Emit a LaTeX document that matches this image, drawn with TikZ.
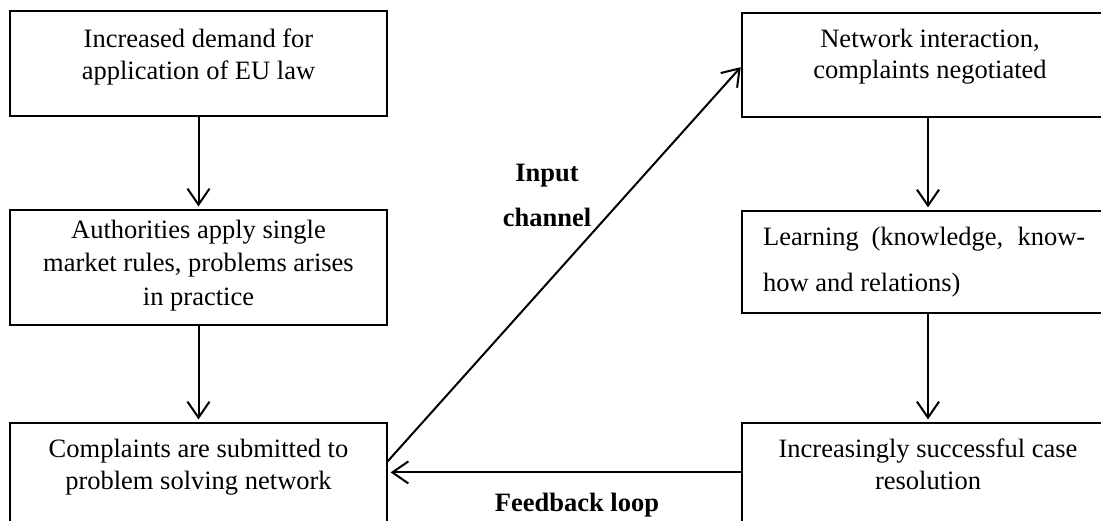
\documentclass[tikz,border=0pt]{standalone}
\usepackage{fontspec}
\setmainfont{Liberation Serif}
\usetikzlibrary{arrows.meta}
\newcommand\fl{\rule{0pt}{20pt}}
\begin{document}
\begin{tikzpicture}[x=1pt,y=-1pt,
  box/.style={draw=black, line width=1.2pt, rectangle, inner sep=0pt},
  txt/.style={inner sep=0pt, anchor=north, align=center, font=\fontsize{26.5}{32}\selectfont},
  lbl/.style={inner sep=0pt, anchor=north, align=center, font=\fontsize{26.5}{45}\selectfont\bfseries},
  arr/.style={line width=2pt, -{Straight Barb[length=16pt,width=22pt,line width=2pt]}, shorten >=3pt}
]
\useasboundingbox (0,0) rectangle (1101,520);
\clip (0,0) rectangle (1101,520);
% boxes
\node[box, minimum width=377pt, minimum height=105pt] (A) at (198.5,63.5) {};
\node[box, minimum width=377pt, minimum height=115pt] (B) at (198.5,267.5) {};
\node[box, minimum width=377pt, minimum height=105pt] (C) at (198.5,475.5) {};
\node[box, minimum width=372pt, minimum height=104pt] (D) at (928,65) {};
\node[box, minimum width=372pt, minimum height=102pt] (E) at (928,262) {};
\node[box, minimum width=372pt, minimum height=105pt] (F) at (928,475.5) {};
% texts
\node[txt] (At) at (198.5,27) {\fl Increased demand for\\application of EU law};
\node[txt, font=\fontsize{26.5}{33.5}\selectfont] (Bt) at (198.5,218) {\fl Authorities apply single\\market rules, problems arises\\in practice};
\node[txt] (Ct) at (198.5,437) {\fl Complaints are submitted to\\problem solving network};
\node[txt, font=\fontsize{26.5}{31}\selectfont] (Dt) at (930,27) {\fl Network interaction,\\complaints negotiated};
\node[txt, anchor=north west, text width=322pt, align=justify, font=\fontsize{26.5}{46}\selectfont] (Et) at (763,225) {\noindent\fl Learning (knowledge, know-\linebreak how and relations)};
\node[txt] (Ft) at (928,437) {\fl Increasingly successful case\\resolution};
% labels
\node[lbl] (Lin) at (547,161) {\fl Input\\channel};
\node[lbl] (Lfb) at (577,491) {\fl Feedback loop};
% connectors
\draw[arr] (A.south) -- (B.north);
\draw[arr] (B.south) -- (C.north);
\draw[arr] (D.south) -- (E.north);
\draw[arr] (E.south) -- (F.north);
\draw[arr, shorten >=1pt] ([yshift=-39pt]C.north east) -- ([yshift=-54pt]D.north west);
\draw[arr] ([yshift=-50pt]F.north west) -- ([yshift=-50pt]C.north east);
\end{tikzpicture}
\end{document}
